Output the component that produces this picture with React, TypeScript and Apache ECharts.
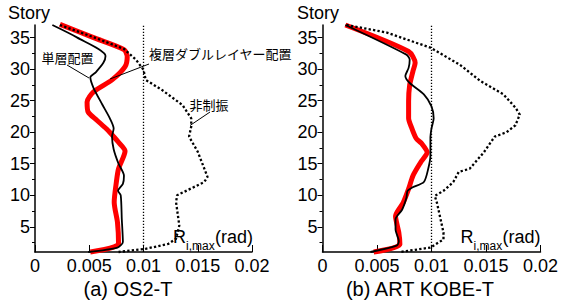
import React, { useEffect, useRef } from "react";
import * as echarts from "echarts";

// ---- axis ticks ----
const FLOOR_TICKS = [5, 10, 15, 20, 25, 30, 35];
const FLOOR_MINOR_TICKS = [2.5, 7.5, 12.5, 17.5, 22.5, 27.5, 32.5];
const PANEL_TITLES = ["(a) OS2-T", "(b) ART KOBE-T"];
const LIMIT_DRIFT = 0.01;

// ---- (a) OS2-T ----
const osSingleX = [0.0016, 0.0039, 0.0065, 0.0063, 0.0056, 0.0051, 0.0054, 0.0062, 0.0069, 0.00725, 0.0071, 0.00725, 0.0077, 0.0082, 0.0081, 0.00765, 0.0079, 0.008, 0.0081, 0.0076, 0.0049];
const osSingleY = [37, 35, 32.1, 31.0, 29.5, 28.7, 27, 24.4, 22.2, 20.6, 19.3, 17.3, 15, 13.1, 11.8, 10.7, 10, 6.2, 2.6, 1.7, 1];
const osDoubleX = [0.0023, 0.0054, 0.0082, 0.0085, 0.0083, 0.0071, 0.0054, 0.0048, 0.0049, 0.0057, 0.0066, 0.0073, 0.0077, 0.0083, 0.0077, 0.0075, 0.0073, 0.0076, 0.0077, 0.0051];
const osDoubleY = [37.1, 35, 33.1, 32, 30.4, 28.3, 26.4, 24.8, 23.2, 21.9, 20.5, 19.2, 18.4, 17.0, 14.2, 12.1, 8.9, 5.7, 2.3, 1];
const osNoneX = [0.0023, 0.0055, 0.0082, 0.0093, 0.01, 0.0102, 0.0117, 0.0136, 0.0144, 0.0144, 0.0142, 0.015, 0.0159, 0.0156, 0.0131, 0.013, 0.0133, 0.013, 0.0123, 0.0102, 0.0077];
const osNoneY = [37, 35, 33.2, 31.5, 29.9, 28.3, 26.7, 24.3, 22.2, 20.9, 19.3, 16.9, 12.9, 12.1, 10.0, 8.9, 5.2, 3.1, 2.3, 1.5, 1.0];

// ---- (b) ART KOBE-T ----
const kbSingleX = [0.0021, 0.0077, 0.008, 0.0079, 0.0076, 0.008, 0.0093, 0.01, 0.0102, 0.01, 0.0099, 0.0099, 0.0097, 0.0093, 0.0082, 0.0078, 0.0077, 0.0073, 0.0067, 0.0067, 0.007, 0.0068, 0.0044];
const kbSingleY = [37, 32.3, 31.5, 30.2, 28.9, 27.8, 26.0, 24.1, 22.2, 20.6, 19.0, 16.3, 14.2, 12.1, 11.2, 10.7, 9.6, 7.7, 6.2, 4.6, 2.7, 2.0, 1.0];
const kbDoubleX = [0.0021, 0.0079, 0.0085, 0.0083, 0.008, 0.0079, 0.0079, 0.0082, 0.0086, 0.0091, 0.0096, 0.009, 0.0083, 0.0079, 0.0074, 0.0067, 0.007, 0.0071, 0.0047];
const kbDoubleY = [37, 32.8, 31.0, 29.7, 27.5, 24.9, 22.2, 20.6, 19.0, 18.2, 16.8, 15.2, 13.1, 11.0, 8.8, 6.7, 4.1, 2.2, 1.0];
const kbNoneX = [0.0022, 0.0059, 0.0099, 0.0126, 0.0145, 0.0166, 0.0177, 0.0181, 0.0177, 0.0169, 0.0158, 0.0148, 0.0135, 0.0125, 0.012, 0.0111, 0.0103, 0.0105, 0.0111, 0.0111, 0.0099, 0.0071];
const kbNoneY = [37, 35.8, 33.4, 30.7, 28.1, 26.0, 23.9, 22.8, 21.1, 20.0, 19.3, 16.8, 14.2, 13.7, 12.1, 10.7, 9.9, 8.8, 4.1, 3.0, 1.7, 1.0];

const FONT = "'Liberation Sans', Arial, sans-serif";
const JP = "'Noto Sans CJK JP', 'Noto Sans CJK SC', sans-serif";

const zip = (xs: number[], ys: number[]) => xs.map((x, i) => [x, ys[i]]);

const GRIDS = [
  { left: 35, top: 25, width: 217, height: 227 },
  { left: 322.5, top: 25, width: 219, height: 227 },
];

export default function App() {
  const ref = useRef<HTMLDivElement>(null);
  useEffect(() => {
    if (!ref.current) return;
    const chart = echarts.init(ref.current, undefined, { renderer: "svg" });

    const panels = [
      { single: zip(osSingleX, osSingleY), double: zip(osDoubleX, osDoubleY), none: zip(osNoneX, osNoneY) },
      { single: zip(kbSingleX, kbSingleY), double: zip(kbDoubleX, kbDoubleY), none: zip(kbNoneX, kbNoneY) },
    ];

    const xAxis: any[] = [];
    const yAxis: any[] = [];
    const series: any[] = [];
    const graphic: any[] = [];

    GRIDS.forEach((g, gi) => {
      xAxis.push({
        type: "value",
        gridIndex: gi,
        min: 0,
        max: 0.02,
        interval: 0.005,
        axisLine: { show: true, onZero: false, lineStyle: { color: "#000", width: 1.5 } },
        axisTick: { show: true, inside: true, length: 7, lineStyle: { color: "#000", width: 1 } },
        axisLabel: { color: "#000", fontSize: 18, fontFamily: FONT, margin: 5 },
        splitLine: { show: false },
      });
      yAxis.push({
        type: "value",
        gridIndex: gi,
        position: "left",
        min: 1,
        max: 37,
        axisLine: { show: true, onZero: false, lineStyle: { color: "#000", width: 1.5 } },
        axisTick: { show: true, length: 5, customValues: FLOOR_TICKS, lineStyle: { color: "#000", width: 1 } },
        axisLabel: { customValues: FLOOR_TICKS, color: "#000", fontSize: 18, fontFamily: FONT, margin: 5 },
        splitLine: { show: false },
      });
      yAxis.push({
        type: "value",
        gridIndex: gi,
        position: "left",
        offset: 0,
        min: 1,
        max: 37,
        axisLine: { show: false },
        axisTick: { show: true, length: 3, customValues: FLOOR_MINOR_TICKS, lineStyle: { color: "#000", width: 1 } },
        axisLabel: { show: false },
        splitLine: { show: false },
      });

      const p = panels[gi];
      series.push({
        type: "line",
        name: "複層ダブルレイヤー配置",
        xAxisIndex: gi,
        yAxisIndex: gi * 2,
        data: p.double,
        symbol: "none",
        smooth: 0.25,
        clip: false,
        z: 2,
        lineStyle: { color: "#ff0000", width: 5 },
      });
      series.push({
        type: "line",
        name: "単層配置",
        xAxisIndex: gi,
        yAxisIndex: gi * 2,
        data: p.single,
        symbol: "none",
        smooth: 0.25,
        clip: false,
        z: 3,
        lineStyle: { color: "#000", width: 1.8 },
      });
      series.push({
        type: "line",
        name: "非制振",
        xAxisIndex: gi,
        yAxisIndex: gi * 2,
        data: p.none,
        symbol: "none",
        clip: false,
        z: 4,
        lineStyle: { color: "#000", width: 2.3, type: [2.3, 2.2] },
        markLine: {
          symbol: "none",
          silent: true,
          label: { show: false },
          lineStyle: { color: "#000", width: 1.3, type: [1.3, 1.7] },
          data: [{ xAxis: LIMIT_DRIFT }],
        },
      });

      const dx = g.left - 35;
      // Story
      graphic.push({
        type: "text",
        x: gi === 0 ? 8 : 297,
        y: 13,
        style: { text: "Story", fontSize: 18, fontFamily: FONT, fill: "#000", verticalAlign: "middle", align: "left" },
      });
      // R_i,max(rad)
      graphic.push({
        type: "text",
        x: 173 + dx,
        y: 237,
        style: { text: "R", fontSize: 18, fontFamily: FONT, fill: "#000", verticalAlign: "middle", align: "left" },
      });
      graphic.push({
        type: "text",
        x: 186 + dx,
        y: 245.8,
        style: { text: "i,max", fontSize: 12, fontFamily: FONT, fill: "#000", verticalAlign: "middle", align: "left" },
      });
      graphic.push({
        type: "text",
        x: 215 + dx,
        y: 237,
        style: { text: "(rad)", fontSize: 18, fontFamily: FONT, fill: "#000", verticalAlign: "middle", align: "left" },
      });
      // caption
      graphic.push({
        type: "text",
        x: gi === 0 ? 128 : 420,
        y: 289,
        style: { text: PANEL_TITLES[gi], fontSize: 20, fontFamily: FONT, fill: "#000", verticalAlign: "middle", align: "center" },
      });
    });

    // annotations (left panel)
    graphic.push({
      type: "text", x: 67.5, y: 57,
      style: { text: "単層配置", fontSize: 13, fontFamily: JP, fill: "#000", verticalAlign: "middle", align: "center" },
    });
    graphic.push({
      type: "text", x: 149, y: 53.3,
      style: { text: "複層ダブルレイヤー配置", fontSize: 13, fontFamily: JP, fill: "#000", verticalAlign: "middle", align: "left" },
    });
    graphic.push({
      type: "text", x: 209, y: 104.7,
      style: { text: "非制振", fontSize: 13, fontFamily: JP, fill: "#000", verticalAlign: "middle", align: "center" },
    });
    graphic.push({ type: "line", shape: { x1: 67, y1: 65, x2: 89, y2: 78 }, style: { stroke: "#000", lineWidth: 1 }, z: 10 });
    graphic.push({ type: "line", shape: { x1: 110, y1: 79, x2: 149, y2: 64 }, style: { stroke: "#000", lineWidth: 1 }, z: 10 });
    graphic.push({ type: "line", shape: { x1: 210, y1: 112, x2: 190, y2: 125.5 }, style: { stroke: "#000", lineWidth: 1 }, z: 10 });

    chart.setOption({
      animation: false,
      backgroundColor: "#fff",
      grid: GRIDS.map((g) => ({ ...g, containLabel: false })),
      xAxis,
      yAxis,
      series,
      graphic,
    });
    return () => chart.dispose();
  }, []);

  return (
    <div
      ref={ref}
      style={{ position: "fixed", left: 0, top: 0, width: 561, height: 303, background: "#fff" }}
    />
  );
}
